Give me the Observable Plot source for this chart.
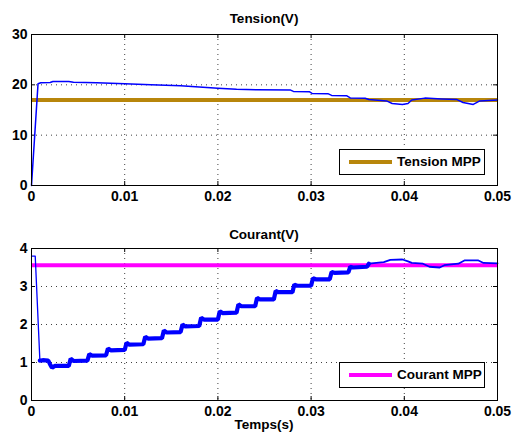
<!DOCTYPE html>
<html><head><meta charset="utf-8">
<script src="https://cdn.jsdelivr.net/npm/d3@7"></script>
<script src="https://cdn.jsdelivr.net/npm/@observablehq/plot@0.6"></script>
<style>
body{margin:0;background:#fff;}
#chart{position:relative;width:512px;height:437px;font-family:"Liberation Sans",Arial,Helvetica,sans-serif;font-weight:bold;color:#000;overflow:hidden;}
#chart svg{position:absolute;left:0;}
.ttl{position:absolute;left:31px;width:466px;text-align:center;font-size:13.5px;line-height:16px;}
.leg{position:absolute;width:144px;height:24px;border:1px solid #000;background:#fff;}
.leg .sw{position:absolute;left:9px;top:10px;width:43px;height:4px;}
.leg .tx{position:absolute;left:57px;top:4px;font-size:13.5px;line-height:16px;white-space:nowrap;}
</style></head>
<body><div id="chart"></div>
<script>
// ---- data ----
const xTicks = [0, 0.01, 0.02, 0.03, 0.04, 0.05];
const tensionTicks = [0, 10, 20, 30];
const courantTicks = [0, 1, 2, 3, 4];

const tensionT = [0, 0.0007, 0.0010, 0.0020, 0.0023, 0.0040, 0.0045, 0.0070, 0.0100, 0.0128, 0.0160, 0.0180, 0.0200, 0.0220, 0.0241, 0.0278, 0.0281, 0.0298, 0.0301, 0.0318, 0.0322, 0.0338, 0.0342, 0.0358, 0.0362, 0.0381, 0.0387, 0.0398, 0.0404, 0.0408, 0.0422, 0.0440, 0.0456, 0.0463, 0.0474, 0.0481, 0.0500];
const tensionV = [0, 20.2, 20.4, 20.45, 20.65, 20.65, 20.5, 20.4, 20.2, 20.0, 19.8, 19.55, 19.3, 19.1, 19.0, 18.95, 18.7, 18.65, 18.3, 18.25, 17.9, 17.85, 17.4, 17.35, 17.1, 16.8, 16.3, 16.1, 16.3, 17.0, 17.36, 17.2, 17.1, 16.5, 16.1, 16.8, 17.0];
const tensionMPP = [17];

const courantT = [0, 0.0004, 0.0009, 0.0012, 0.0018, 0.0020, 0.0022, 0.0025, 0.0040,
  0.0042, 0.0045, 0.0060, 0.0062, 0.0065, 0.0080, 0.0082, 0.0085, 0.0100,
  0.0102, 0.0105, 0.0120, 0.0122, 0.0125, 0.0140, 0.0142, 0.0145, 0.0160,
  0.0162, 0.0165, 0.0180, 0.0182, 0.0185, 0.0200, 0.0202, 0.0205, 0.0220,
  0.0222, 0.0225, 0.0240, 0.0242, 0.0245, 0.0260, 0.0262, 0.0265, 0.0280,
  0.0282, 0.0285, 0.0300, 0.0302, 0.0305, 0.0320, 0.0322, 0.0325, 0.0340,
  0.0342, 0.0345, 0.0360,
  0.0362, 0.0378, 0.0385, 0.0398, 0.0404, 0.0408, 0.0420, 0.0427, 0.0438, 0.0443, 0.0458, 0.0465, 0.0479, 0.0485, 0.0500];
const courantI = [3.80, 3.80, 1.05, 1.06, 1.05, 0.95, 0.86, 0.91, 0.91,
  1.10, 1.04, 1.05, 1.22, 1.18, 1.19, 1.37, 1.32, 1.33,
  1.52, 1.47, 1.48, 1.68, 1.63, 1.64, 1.84, 1.79, 1.80,
  2.00, 1.95, 1.96, 2.18, 2.13, 2.13, 2.35, 2.30, 2.31,
  2.53, 2.48, 2.48, 2.70, 2.66, 2.66, 2.88, 2.85, 2.85,
  3.05, 3.02, 3.02, 3.22, 3.19, 3.19, 3.38, 3.36, 3.37,
  3.52, 3.50, 3.52,
  3.60, 3.64, 3.70, 3.71, 3.66, 3.62, 3.60, 3.52, 3.50, 3.56, 3.60, 3.69, 3.69, 3.62, 3.61];
const courantMPP = [3.56];
const rippleStart = 0.0009, rippleEnd = 0.0362;

const tension = tensionT.map((t, i) => ({t, v: tensionV[i]}));
const courant = courantT.map((t, i) => ({t, v: courantI[i]}));

// ---- drawing ----
const FONT = '"Liberation Sans", Arial, Helvetica, sans-serif';
const fmt = d => String(+d.toFixed(2));
const chart = document.getElementById("chart");

function panel({top, height, mt, mb, yDomain, yTicks, lines, mpp, mppColor}) {
  const W = 512, ml = 31, mr = 15;
  const ih = height - mt - mb, iw = W - ml - mr;
  const tl = 4;
  const innerX = xTicks.slice(1, -1);
  const innerY = yTicks.slice(1, -1);
  const svg = Plot.plot({
    width: W, height, marginLeft: ml, marginRight: mr, marginTop: mt, marginBottom: mb,
    x: {domain: [0, 0.05]},
    y: {domain: yDomain},
    style: {fontFamily: FONT, fontSize: "14px", fontWeight: "bold", color: "#000", background: "transparent", overflow: "visible"},
    marks: [
      Plot.gridX(innerX, {stroke: "#000", strokeOpacity: 0.75, strokeDasharray: "1,4"}),
      Plot.gridY(innerY, {stroke: "#000", strokeOpacity: 0.75, strokeDasharray: "1,4"}),
      Plot.tickX(innerX, {x: d => d, stroke: "#000", insetTop: ih - tl}),
      Plot.tickX(innerX, {x: d => d, stroke: "#000", insetBottom: ih - tl}),
      Plot.tickY(innerY, {y: d => d, stroke: "#000", insetRight: iw - tl}),
      Plot.tickY(innerY, {y: d => d, stroke: "#000", insetLeft: iw - tl}),
      Plot.ruleY(mpp, {stroke: mppColor, strokeWidth: 4}),
      ...lines,
      Plot.frame({stroke: "#000", strokeWidth: 1}),
      Plot.axisX(xTicks, {tickSize: 0, tickPadding: 6, tickFormat: fmt, label: null, fontSize: 14}),
      Plot.axisY(yTicks, {tickSize: 0, tickPadding: 4, label: null, fontSize: 14})
    ]
  });
  svg.style.top = top + "px";
  chart.appendChild(svg);
}

panel({
  top: 0, height: 215, mt: 34, mb: 30, yDomain: [0, 30], yTicks: tensionTicks,
  mpp: tensionMPP, mppColor: "#b8860b",
  lines: [Plot.line(tension, {x: "t", y: "v", stroke: "#0000ff", strokeWidth: 1.5})]
});

panel({
  top: 215, height: 222, mt: 33, mb: 37, yDomain: [0, 4], yTicks: courantTicks,
  mpp: courantMPP, mppColor: "#ff00ff",
  lines: [
    Plot.line(courant.filter(d => d.t <= rippleStart), {x: "t", y: "v", stroke: "#0000ff", strokeWidth: 1.3}),
    Plot.line(courant.filter(d => d.t >= rippleStart && d.t <= rippleEnd), {x: "t", y: "v", stroke: "#0000ff", strokeWidth: 4.2, strokeLinejoin: "bevel"}),
    Plot.line(courant.filter(d => d.t >= rippleEnd), {x: "t", y: "v", stroke: "#0000ff", strokeWidth: 1.8})
  ]
});

function addText(cls, txt, top) {
  const d = document.createElement("div");
  d.className = cls; d.textContent = txt; d.style.top = top + "px";
  chart.appendChild(d);
}
addText("ttl", "Tension(V)", 11);
addText("ttl", "Courant(V)", 227);
addText("ttl", "Temps(s)", 417);

function addLegend(label, color, left, top) {
  const d = document.createElement("div");
  d.className = "leg"; d.style.left = left + "px"; d.style.top = top + "px";
  const s = document.createElement("div"); s.className = "sw"; s.style.background = color;
  const t = document.createElement("div"); t.className = "tx"; t.textContent = label;
  d.appendChild(s); d.appendChild(t); chart.appendChild(d);
}
addLegend("Tension MPP", "#b8860b", 339, 149);
addLegend("Courant MPP", "#ff00ff", 339, 362);
</script>
</body></html>
